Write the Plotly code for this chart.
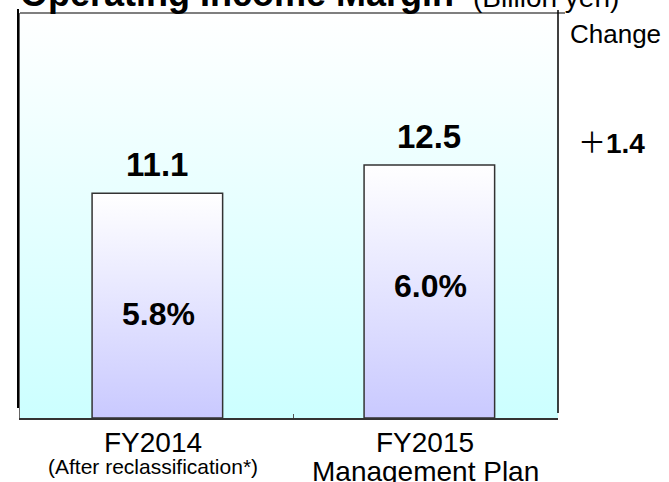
import base64
import plotly.graph_objects as go

# ---- data ----
categories = ["FY2014", "FY2015"]
sublabels = ["(After reclassification*)", "Management Plan"]
operating_income = [11.1, 12.5]      # billion yen
margin_pct = [5.8, 6.0]              # operating income margin, %
change_value = [1.4]                 # change FY2014 -> FY2015
title_main = "Operating Income Margin"
title_unit = "(Billion yen)"
change_label = "Change"

FONT = "Arial, 'Liberation Sans', 'Noto Sans CJK JP', sans-serif"
BAR_W = 0.48

W, H = 669, 482
PL, PR, PT, PB = 20, 558, 13, 418   # plot box in page px

def px_x(p):
    return (p - PL) / (PR - PL)

def px_y(p):
    return (PB - p) / (PB - PT)

fig = go.Figure()

# bars with vertical gradient (white top -> lavender bottom)
for i, v in enumerate(operating_income):
    fig.add_trace(go.Scatter(
        x=[i - BAR_W / 2, i + BAR_W / 2, i + BAR_W / 2, i - BAR_W / 2, i - BAR_W / 2],
        y=[0, 0, v, v, 0],
        mode="lines", fill="toself",
        fillgradient=dict(type="vertical", colorscale=[[0, "#c9c9ff"], [1, "#ffffff"]],
                          start=0, stop=v),
        line=dict(color="#333333", width=1.5),
        hoverinfo="skip", showlegend=False,
    ))

annotations = []
for i, (v, m) in enumerate(zip(operating_income, margin_pct)):
    annotations.append(dict(x=i, y=v, xref="x", yref="y", text=f"<b>{v:.1f}</b>",
                            showarrow=False, xanchor="center", yanchor="bottom", yshift=8,
                            font=dict(size=33, color="black", family=FONT)))
    annotations.append(dict(x=i, y=v, xref="x", yref="y", text=f"<b>{m:.1f}%</b>",
                            showarrow=False, xanchor="center", yanchor="middle",
                            yshift=-121, xshift=1,
                            font=dict(size=32, color="black", family=FONT)))
    annotations.append(dict(x=i, y=0, xref="x", yref="paper", text=categories[i],
                            showarrow=False, xanchor="center", yanchor="top",
                            yshift=-7, xshift=-4,
                            font=dict(size=28, color="black", family=FONT)))
    annotations.append(dict(x=i, y=0, xref="x", yref="paper", text=sublabels[i],
                            showarrow=False, xanchor="center", yanchor="top",
                            yshift=-35 if i == 0 else -36, xshift=-4,
                            font=dict(size=21 if i == 0 else 28, color="black", family=FONT)))

annotations += [
    dict(x=0, y=1, xref="paper", yref="paper", text=f"<b>{title_main}</b>",
         showarrow=False, xanchor="left", yanchor="bottom", yshift=-3, xshift=-2,
         font=dict(size=36, color="black", family=FONT)),
    dict(x=px_x(471), y=1, xref="paper", yref="paper", text=title_unit,
         showarrow=False, xanchor="left", yanchor="bottom", yshift=-2,
         font=dict(size=28, color="black", family=FONT)),
    dict(x=px_x(615), y=px_y(34), xref="paper", yref="paper",
         text=change_label, showarrow=False, xanchor="center", yanchor="middle",
         font=dict(size=26, color="black", family=FONT)),
    dict(x=px_x(611), y=px_y(143), xref="paper", yref="paper",
         text=f"＋<b>{change_value[0]:.1f}</b>", showarrow=False,
         xanchor="center", yanchor="middle",
         font=dict(size=28, color="black", family=FONT)),
]

svg = ('<svg xmlns="http://www.w3.org/2000/svg" width="10" height="100" preserveAspectRatio="none">'
       '<defs><linearGradient id="g" x1="0" y1="0" x2="0" y2="1">'
       '<stop offset="0" stop-color="#ffffff"/><stop offset="1" stop-color="#ccffff"/>'
       '</linearGradient></defs><rect width="10" height="100" fill="url(#g)"/></svg>')
bg_src = "data:image/svg+xml;base64," + base64.b64encode(svg.encode()).decode()

shapes = [
    dict(type="line", xref="paper", yref="paper", x0=0, x1=px_x(565), y0=1, y1=1,
         line=dict(color="#555555", width=1.5)),
    dict(type="line", xref="paper", yref="paper", x0=px_x(18), x1=px_x(18),
         y0=px_y(408), y1=px_y(9), line=dict(color="black", width=2)),
    dict(type="line", xref="paper", yref="paper", x0=1, x1=1,
         y0=px_y(413), y1=px_y(10), line=dict(color="black", width=1.5)),
]

fig.update_layout(
    width=W, height=H,
    margin=dict(l=PL, r=W - PR, t=PT, b=H - PB),
    paper_bgcolor="white", plot_bgcolor="rgba(0,0,0,0)",
    showlegend=False,
    images=[dict(source=bg_src, xref="paper", yref="paper", x=0, y=1, sizex=1, sizey=1,
                 sizing="stretch", layer="below", xanchor="left", yanchor="top")],
    annotations=annotations,
    shapes=shapes,
    xaxis=dict(range=[-0.505, 1.473], showgrid=False, zeroline=False,
               showline=True, linecolor="#333333", linewidth=1.5,
               tickvals=[0.5], ticktext=[""], ticks="inside", ticklen=4,
               tickcolor="#555555", fixedrange=True),
    yaxis=dict(range=[0, 20], showgrid=False, zeroline=False, showticklabels=False,
               showline=True, linecolor="#666666", linewidth=1, ticks="", fixedrange=True),
)

fig.write_html("out.html",
               config={"displayModeBar": False, "staticPlot": True},
               post_script="document.body.style.margin='0px';document.body.style.padding='0px';")
